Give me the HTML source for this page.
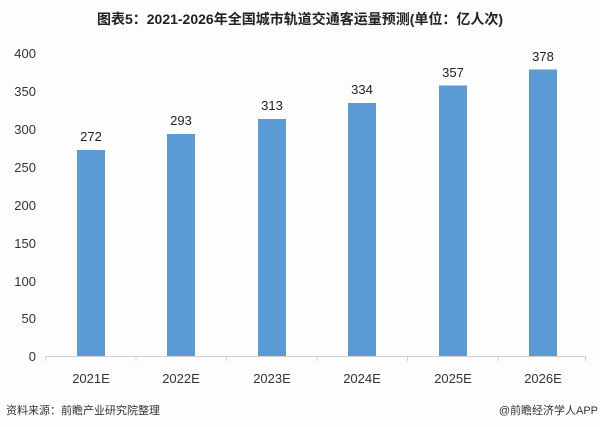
<!DOCTYPE html>
<html><head><meta charset="utf-8"><style>
body{margin:0;background:#fdfdfd;}
svg{display:block;font-family:"Liberation Sans","Noto Sans CJK SC",sans-serif;}
</style></head><body>
<svg width="600" height="427" viewBox="0 0 600 427">
<rect width="600" height="427" fill="#fdfdfd"/>
<text x="300" y="24" text-anchor="middle" font-size="14" font-weight="bold" fill="#222">图表5：2021-2026年全国城市轨道交通客运量预测(单位：亿人次)</text>
<g font-size="13" fill="#333" text-anchor="end">
<text x="36" y="58">400</text><text x="36" y="96">350</text><text x="36" y="134">300</text>
<text x="36" y="172">250</text><text x="36" y="210">200</text><text x="36" y="248">150</text>
<text x="36" y="286">100</text><text x="36" y="323">50</text><text x="36" y="361">0</text>
</g>
<line x1="45" y1="356.5" x2="586" y2="356.5" stroke="#d0d0d0"/>
<g stroke="#d0d0d0">
<line x1="45.5" y1="356" x2="45.5" y2="361"/><line x1="136" y1="356" x2="136" y2="361"/>
<line x1="226.5" y1="356" x2="226.5" y2="361"/><line x1="317" y1="356" x2="317" y2="361"/>
<line x1="407.5" y1="356" x2="407.5" y2="361"/><line x1="498" y1="356" x2="498" y2="361"/>
<line x1="585.5" y1="356" x2="585.5" y2="361"/>
</g>
<g fill="#5b9bd5">
<rect x="77" y="150" width="28" height="206"/>
<rect x="167" y="134" width="28" height="222"/>
<rect x="258" y="119" width="28" height="237"/>
<rect x="348" y="103" width="28" height="253"/>
<rect x="439" y="85.5" width="28" height="270.5"/>
<rect x="529" y="69.5" width="28" height="286.5"/>
</g>
<g font-size="13" fill="#222" text-anchor="middle">
<text x="91" y="141">272</text><text x="181" y="125">293</text><text x="272" y="110">313</text>
<text x="362" y="94">334</text><text x="453" y="77">357</text><text x="543" y="61">378</text>
</g>
<g font-size="13" fill="#333" text-anchor="middle">
<text x="91" y="383">2021E</text><text x="181" y="383">2022E</text><text x="272" y="383">2023E</text>
<text x="362" y="383">2024E</text><text x="453" y="383">2025E</text><text x="543" y="383">2026E</text>
</g>
<text x="6" y="414" font-size="11" fill="#333">资料来源：前瞻产业研究院整理</text>
<text x="598" y="414" font-size="11" fill="#333" text-anchor="end">@前瞻经济学人APP</text>
</svg>
</body></html>
